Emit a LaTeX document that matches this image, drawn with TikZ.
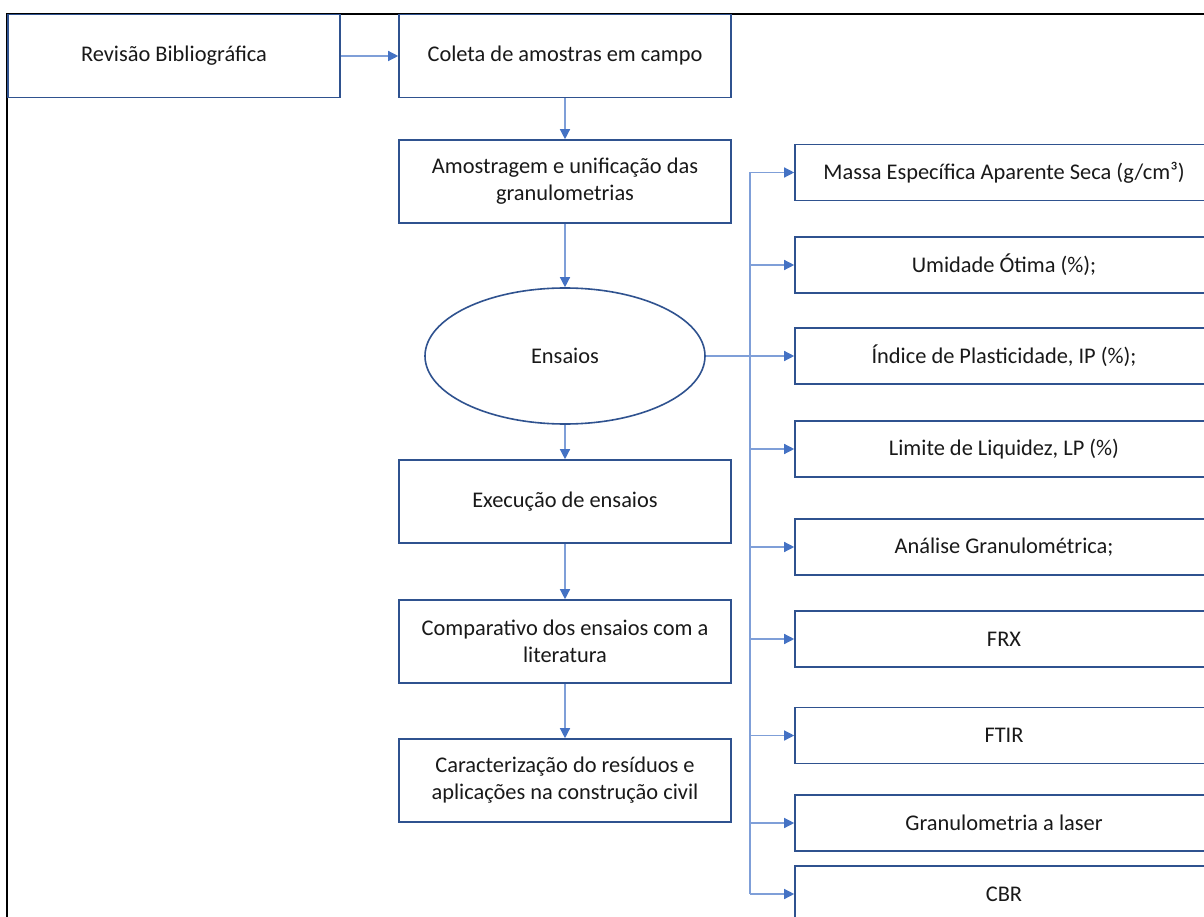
\documentclass[tikz,border=0pt]{standalone}
\usepackage{fontspec}
\setmainfont{Carlito}
\usetikzlibrary{arrows.meta,shapes.geometric}
\definecolor{boxblue}{HTML}{2F528F}
\definecolor{linkblue}{HTML}{7F9FD8}
\definecolor{tipblue}{HTML}{4472C4}
\begin{document}
\begin{tikzpicture}[x=1pt,y=-1pt,
  every node/.style={font=\fontsize{22.4}{27}\selectfont, text=black!90},
  lbox/.style={draw=boxblue, line width=1.6pt, minimum width=332pt, minimum height=83pt, align=center, inner sep=0pt},
  rbox/.style={draw=boxblue, line width=1.6pt, minimum width=418pt, minimum height=56pt, align=center, inner sep=0pt},
  ell/.style={draw=boxblue, line width=1.6pt, ellipse, minimum width=280pt, minimum height=136pt, inner sep=0pt},
  link/.style={draw=linkblue, line width=1.3pt, -{Triangle[length=10pt,width=10pt,fill=tipblue,color=tipblue]}},
  plain/.style={draw=linkblue, line width=1.3pt}
]
\clip (0,0) rectangle (1204,917);
\fill[white] (0,0) rectangle (1204,917);
\draw[black, line width=2pt] (7,917) -- (7,14) -- (1210,14);

\node[lbox] (rev) at (174,56) {Revisão Bibliográfica};
\node[lbox] (col) at (565,56) {Coleta de amostras em campo};
\node[lbox] (amo) at (565,181.5) {Amostragem e unificação das\\granulometrias};
\node[ell] (ens) at (565,356) {Ensaios};
\node[lbox] (exe) at (565,501.5) {Execução de ensaios};
\node[lbox] (com) at (565,641.5) {Comparativo dos ensaios com a\\literatura};
\node[lbox] (car) at (565,780.5) {Caracterização do resíduos e\\aplicações na construção civil};

\node[rbox] (r1) at (1004,172.5) {Massa Específica Aparente Seca (g/cm³)};
\node[rbox] (r2) at (1004,265) {Umidade Ótima (\%);};
\node[rbox] (r3) at (1004,356) {Índice de Plasticidade, IP (\%);};
\node[rbox] (r4) at (1004,449) {Limite de Liquidez, LP (\%)};
\node[rbox] (r5) at (1004,547) {Análise Granulométrica;};
\node[rbox] (r6) at (1004,639) {FRX};
\node[rbox] (r7) at (1004,735.5) {FTIR};
\node[rbox] (r8) at (1004,823) {Granulometria a laser};
\node[rbox] (r9) at (1004,894) {CBR};

\draw[link] (rev.east) -- (col.west);
\draw[link] (col.south) -- (amo.north);
\draw[link] (amo.south) -- (ens.north);
\draw[link] (ens.south) -- (exe.north);
\draw[link] (exe.south) -- (com.north);
\draw[link] (com.south) -- (car.north);

\coordinate (sp) at (750,356);
\draw[plain] (ens.east) -- (sp);
\draw[plain] (sp |- r1.west) -- (sp |- r9.west);
\foreach \r in {r1,r2,r3,r4,r5,r6,r7,r8,r9}{
  \draw[link] (sp |- \r.west) -- (\r.west);
}
\end{tikzpicture}
\end{document}
